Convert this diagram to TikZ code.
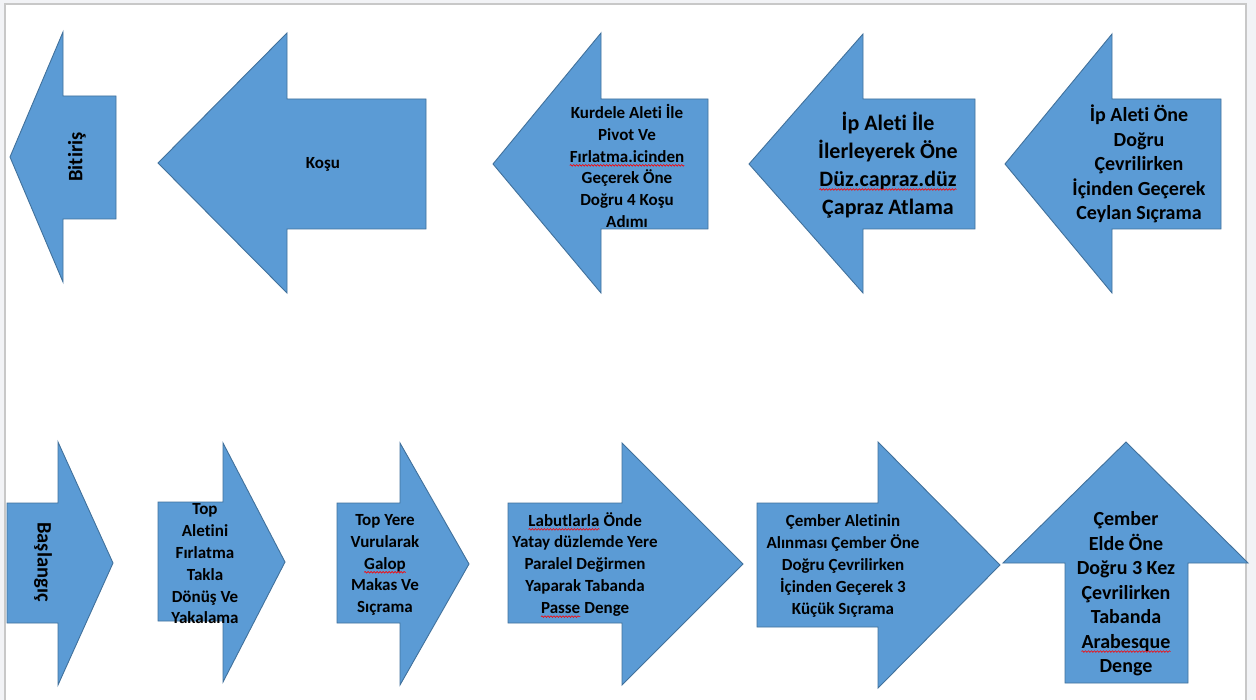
\documentclass[tikz,border=0pt]{standalone}
\usepackage{fontspec}
\setmainfont{Carlito}[Ligatures=NoCommon]
\usetikzlibrary{decorations.pathmorphing}
\definecolor{arrfill}{HTML}{5B9BD5}
\definecolor{arrline}{HTML}{41719C}
\definecolor{pageline}{HTML}{C8C8C8}
\definecolor{outside}{HTML}{F2F3F6}
\newcommand\sq[1]{\tikz[baseline=(w.base),x=1cm,y=1cm]{\node[inner sep=0pt,outer sep=0pt] (w) {#1};\draw[red,line width=0.6pt,decorate,decoration={snake,amplitude=0.8pt,segment length=3pt}] ([yshift=-3.2pt]w.base west) -- ([yshift=-3.2pt]w.base east);}}
\tikzset{
  arrowshape/.style={fill=arrfill,draw=arrline,line width=0.9pt,line join=miter},
  lblS/.style={align=center,inner sep=0pt,font=\bfseries\fontsize{17}{21.8}\selectfont},
  lblM/.style={align=center,inner sep=0pt,font=\bfseries\fontsize{20}{24.5}\selectfont},
  lblL/.style={align=center,inner sep=0pt,font=\bfseries\fontsize{22}{27.8}\selectfont},
  lblR/.style={align=center,inner sep=0pt,font=\bfseries\fontsize{20.5}{24}\selectfont},
}
\begin{document}
\begin{tikzpicture}[x=1pt,y=-1pt]
\useasboundingbox (0,0) rectangle (1256,700);
\fill[outside] (0,0) rectangle (1256,700);
\fill[white] (5,4) rectangle (1246,700);
\draw[pageline,line width=1.5pt] (5,700) -- (5,4) -- (1246,4) -- (1246,700);

% top row (left-pointing arrows)
\draw[arrowshape] (10,157) -- (63,32) -- (63,96) -- (116,96) -- (116,219) -- (63,219) -- (63,282) -- cycle;
\draw[arrowshape] (158,163) -- (287,33) -- (287,99) -- (426,99) -- (426,229) -- (287,229) -- (287,293) -- cycle;
\draw[arrowshape] (493,164) -- (601,33) -- (601,99) -- (708,99) -- (708,229) -- (601,229) -- (601,293) -- cycle;
\draw[arrowshape] (749,164) -- (863,34) -- (863,99) -- (975,99) -- (975,229) -- (863,229) -- (863,293) -- cycle;
\draw[arrowshape] (1005,164) -- (1112,34) -- (1112,99) -- (1221,99) -- (1221,229) -- (1112,229) -- (1112,293) -- cycle;

% bottom row (right-pointing arrows)
\draw[arrowshape] (7,503) -- (58,503) -- (58,442) -- (113,563) -- (58,685) -- (58,623) -- (7,623) -- cycle;
\draw[arrowshape] (158,502) -- (223,502) -- (223,443) -- (285,562) -- (223,682) -- (223,621) -- (158,621) -- cycle;
\draw[arrowshape] (337,503) -- (400,503) -- (400,443) -- (469,564) -- (400,685) -- (400,623) -- (337,623) -- cycle;
\draw[arrowshape] (508,503) -- (622,503) -- (622,443) -- (743,564) -- (622,685) -- (622,623) -- (508,623) -- cycle;
\draw[arrowshape] (757,503) -- (878,503) -- (878,442) -- (1000,565) -- (878,688) -- (878,627) -- (757,627) -- cycle;
\draw[arrowshape] (1126,442) -- (1248,563) -- (1188,563) -- (1188,683) -- (1065,683) -- (1065,563) -- (1003,563) -- cycle;

% labels
\node[lblR,rotate=90] (bitiris) at (77,157) {Bitiriş};
\node[lblS] (kosu) at (323,164) {Koşu};
\node[lblS] (kurdele) at (627,166) {Kurdele Aleti İle\\Pivot Ve\\\sq{Fırlatma.icinden}\\Geçerek Öne\\Doğru 4 Koşu\\Adımı};
\node[lblL] (ip1) at (888,165) {İp Aleti İle\\İlerleyerek Öne\\\sq{Düz.capraz.düz}\\Çapraz Atlama};
\node[lblM] (ip2) at (1139,164) {İp Aleti Öne\\Doğru\\Çevrilirken\\İçinden Geçerek\\Ceylan Sıçrama};

\node[lblR,rotate=-90] (baslangic) at (43,562) {Başlangıç};
\node[lblS] (top1) at (205,564) {Top\\Aletini\\Fırlatma\\Takla\\Dönüş Ve\\Yakalama};
\node[lblS] (top2) at (385,565) {Top Yere\\Vurularak\\\sq{Galop}\\Makas Ve\\Sıçrama};
\node[lblS] (labut) at (585,565) {\sq{Labutlarla} Önde\\Yatay düzlemde Yere\\Paralel Değirmen\\Yaparak Tabanda\\\sq{Passe} Denge};
\node[lblS] (cember1) at (843,566) {Çember Aletinin\\Alınması Çember Öne\\Doğru Çevrilirken\\İçinden Geçerek 3\\Küçük Sıçrama};
\node[lblM] (cember2) at (1126,594) {Çember\\Elde Öne\\Doğru 3 Kez\\Çevrilirken\\Tabanda\\\sq{Arabesque}\\Denge};
\end{tikzpicture}
\end{document}
